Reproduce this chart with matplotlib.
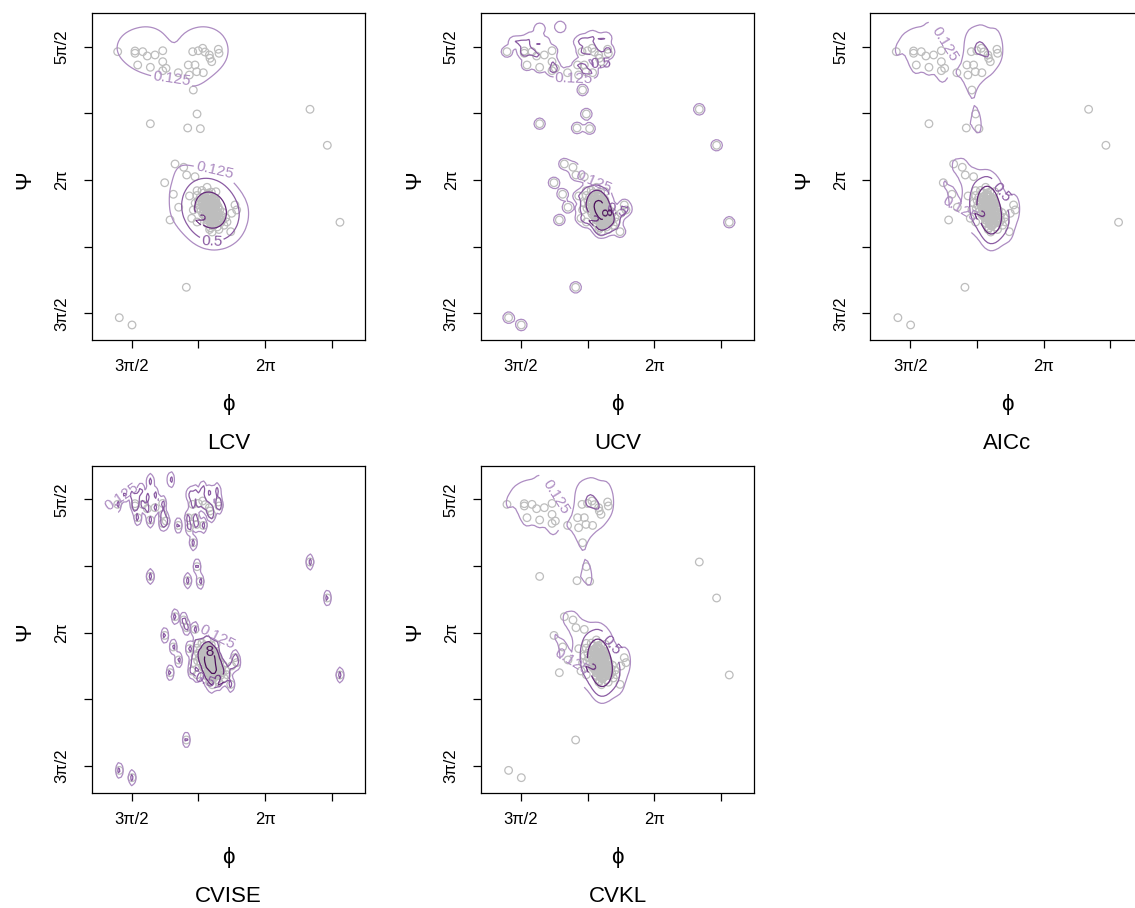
import numpy as np
import matplotlib.pyplot as plt

plt.rcParams['font.family'] = ['Liberation Sans', 'DejaVu Sans']

# dihedral angle sample (radians)
phi_outer = [4.547, 4.751, 4.751, 4.842, 4.896, 4.987, 5.078, 4.783, 4.932, 5.078,
             5.078, 5.117, 5.261, 5.379, 5.458, 5.391, 5.478, 5.556, 5.431, 5.497,
             5.549, 5.576, 5.627, 5.655, 5.635, 5.733, 5.741, 5.438, 5.482, 4.932,
             5.372, 5.521, 6.813, 7.017, 5.223, 5.325, 5.360, 5.458, 5.101, 5.203,
             5.266, 5.164, 5.929, 5.949, 5.879, 7.166, 5.356, 4.566, 4.716]
psi_outer = [7.795, 7.776, 7.803, 7.795, 7.744, 7.756, 7.806, 7.638, 7.611, 7.677,
             7.571, 7.599, 7.547, 7.638, 7.638, 7.520, 7.559, 7.547, 7.795, 7.806,
             7.835, 7.791, 7.756, 7.677, 7.717, 7.823, 7.776, 7.343, 7.061, 6.946,
             6.896, 6.888, 7.116, 6.692, 6.472, 6.433, 6.342, 6.322, 6.251, 6.115,
             5.962, 5.812, 5.989, 5.930, 5.674, 5.785, 5.019, 4.661, 4.575]

# points around the edge of the main cluster
phi_ring = [5.393, 5.482, 5.600, 5.705, 5.438, 5.419, 5.835, 5.890, 5.482]
psi_ring = [6.095, 6.157, 6.197, 6.145, 5.930, 5.832, 5.788, 5.891, 5.788]

# points with psi above 5*pi/2: stored wrapped (psi - 2*pi), so they are not
# drawn as circles and only show up through the periodic density
phi_wrapped = [4.932, 5.175, 4.633, 4.716, 4.775, 4.822, 4.904, 4.987,
               5.399, 5.458, 5.552, 5.635, 5.717, 5.517]
psi_wrapped = [1.782, 1.803, 1.626, 1.626, 1.590, 1.673, 1.602, 1.626,
               1.626, 1.649, 1.696, 1.649, 1.673, 1.602]

# main cluster
phi_core = [5.64, 5.67, 5.61, 5.69, 5.59, 5.66, 5.62, 5.71, 5.57, 5.65,
            5.63, 5.68, 5.60, 5.70, 5.58, 5.64, 5.66, 5.62, 5.67, 5.61,
            5.72, 5.56, 5.65, 5.63, 5.69, 5.59, 5.64, 5.68, 5.60, 5.73,
            5.55, 5.74, 5.54, 5.66, 5.62, 5.70, 5.58, 5.75, 5.53, 5.67,
            5.61, 5.76, 5.52, 5.71, 5.57, 5.64, 5.77, 5.51, 5.68, 5.60,
            5.78, 5.50, 5.72, 5.56, 5.65, 5.63, 5.79, 5.49, 5.73, 5.55,
            5.74, 5.54, 5.80, 5.48, 5.66, 5.69, 5.59, 5.82, 5.46, 5.70,
            5.63, 5.66, 5.64, 5.67, 5.61, 5.68, 5.60, 5.70, 5.62, 5.65,
            5.58, 5.71, 5.64, 5.61, 5.67, 5.59, 5.68, 5.62, 5.66, 5.57,
            5.72, 5.64, 5.60, 5.70, 5.58, 5.67, 5.62, 5.71, 5.56, 5.65,
            5.59, 5.69, 5.64, 5.61, 5.73, 5.57, 5.67, 5.63, 5.70, 5.59,
            5.66, 5.64, 5.68, 5.58, 5.74, 5.55, 5.67, 5.60, 5.72, 5.62,
            5.65, 5.59, 5.70, 5.64, 5.67, 5.61, 5.73, 5.56, 5.69, 5.62,
            5.66, 5.58, 5.71, 5.64, 5.67, 5.60, 5.75, 5.57, 5.65, 5.63]
psi_core = [5.93, 5.90, 5.97, 5.95, 5.90, 5.98, 5.87, 5.86, 6.00, 5.85,
            6.02, 5.82, 6.05, 5.91, 5.95, 6.00, 5.88, 5.93, 5.96, 5.89,
            5.80, 6.06, 5.79, 6.08, 5.99, 5.84, 5.96, 5.93, 5.92, 5.89,
            5.97, 5.84, 6.02, 5.75, 6.11, 5.77, 6.09, 5.93, 5.92, 6.03,
            5.81, 5.78, 6.08, 6.01, 5.86, 5.72, 5.86, 5.99, 6.07, 5.78,
            5.81, 6.04, 5.73, 6.13, 6.14, 5.70, 5.90, 5.95, 5.97, 5.88,
            5.70, 6.16, 5.75, 6.10, 5.67, 5.83, 6.01, 5.84, 6.01, 6.05,
            5.96, 5.90, 5.87, 5.95, 6.01, 5.85, 5.97, 5.90, 5.92, 6.00,
            5.95, 5.86, 5.83, 6.04, 5.81, 5.90, 6.01, 5.86, 6.06, 5.99,
            5.82, 6.02, 5.81, 5.97, 6.05, 5.77, 6.09, 5.93, 5.93, 5.87,
            5.84, 6.04, 5.78, 5.97, 5.78, 6.08, 5.91, 5.99, 5.83, 6.02,
            5.95, 6.10, 5.75, 5.87, 5.89, 6.01, 6.03, 5.77, 5.80, 6.13,
            5.80, 5.94, 6.01, 5.91, 5.85, 6.06, 5.95, 5.97, 5.80, 5.83,
            6.02, 6.00, 5.85, 5.95, 5.74, 6.11, 5.83, 5.91, 5.89, 6.00]

methods = ["LCV", "UCV", "AICc", "CVISE", "CVKL"]
bw_phi = [0.140, 0.042, 0.052, 0.022, 0.054]
bw_psi = [0.140, 0.042, 0.125, 0.050, 0.125]

levels = [0.125, 0.5, 2, 8]
level_colors = ['#ad8cc2', '#8b5ca3', '#672b7c', '#4a0d5a']

x_ticks = [3 * np.pi / 2, 7 * np.pi / 4, 2 * np.pi, 9 * np.pi / 4]
x_ticklabels = ["3\u03c0/2", "", "2\u03c0", ""]
y_ticks = [3 * np.pi / 2, 7 * np.pi / 4, 2 * np.pi, 9 * np.pi / 4, 5 * np.pi / 2]
y_ticklabels = ["3\u03c0/2", "", "2\u03c0", "", "5\u03c0/2"]
xlim = (4.241, 7.461)
ylim = (4.398, 8.247)

phi = np.array(phi_outer + phi_ring + phi_wrapped + phi_core)
psi = np.array(psi_outer + psi_ring + psi_wrapped + psi_core)


def wrapped_kernel(grid, centers, bw):
    d = np.angle(np.exp(1j * (grid[:, None] - centers[None, :])))
    return np.exp(-0.5 * (d / bw) ** 2) / (np.sqrt(2 * np.pi) * bw)


def torus_kde(gx, gy, bx, by):
    kx = wrapped_kernel(gx, phi, bx)
    ky = wrapped_kernel(gy, psi, by)
    return ky @ kx.T / len(phi)


step = 2 * np.pi / 200
gx = np.arange(np.floor(xlim[0] / step) - 1, np.ceil(xlim[1] / step) + 2) * step
gy = np.arange(np.floor(ylim[0] / step) - 1, np.ceil(ylim[1] / step) + 2) * step

W, H = 1135, 908
fig = plt.figure(figsize=(W / 100, H / 100), dpi=100)

lefts = [91.7, 481.0, 870.3]
tops = [13.3, 466.0]
aw, ah = 273.3, 326.7

for i, name in enumerate(methods):
    L = lefts[i % 3]
    T = tops[i // 3]
    ax = fig.add_axes([L / W, 1 - (T + ah) / H, aw / W, ah / H])

    ax.scatter(phi, psi, s=30, facecolors='none', edgecolors='#bdbdbd',
               linewidths=0.9, zorder=1)

    dens = torus_kde(gx, gy, bw_phi[i], bw_psi[i])
    cs = ax.contour(gx, gy, dens, levels=levels, colors=level_colors,
                    linewidths=0.9, zorder=2)
    ax.clabel(cs, fmt=lambda v: f"{v:g}", fontsize=11, inline=True, inline_spacing=1)

    ax.set_xlim(*xlim)
    ax.set_ylim(*ylim)
    ax.set_xticks(x_ticks)
    ax.set_xticklabels(x_ticklabels)
    ax.set_yticks(y_ticks)
    ax.set_yticklabels(y_ticklabels, rotation=90, va='center')
    ax.tick_params(length=6, width=0.9, labelsize=12)
    ax.tick_params(axis='x', pad=8)
    ax.tick_params(axis='y', pad=10)
    for sp in ax.spines.values():
        sp.set_linewidth(0.9)

    cx = (L + aw / 2) / W
    fig.text(cx, 1 - (T + 391) / H, "\u03d5", ha='center', va='center', fontsize=16)
    fig.text(cx, 1 - (T + 430) / H, name, ha='center', va='center', fontsize=16)
    fig.text((L - 66.5) / W, 1 - (T + 166) / H, "\u03a8", ha='center', va='center',
             fontsize=16, rotation=90)

fig.savefig("out.png", dpi=100)
